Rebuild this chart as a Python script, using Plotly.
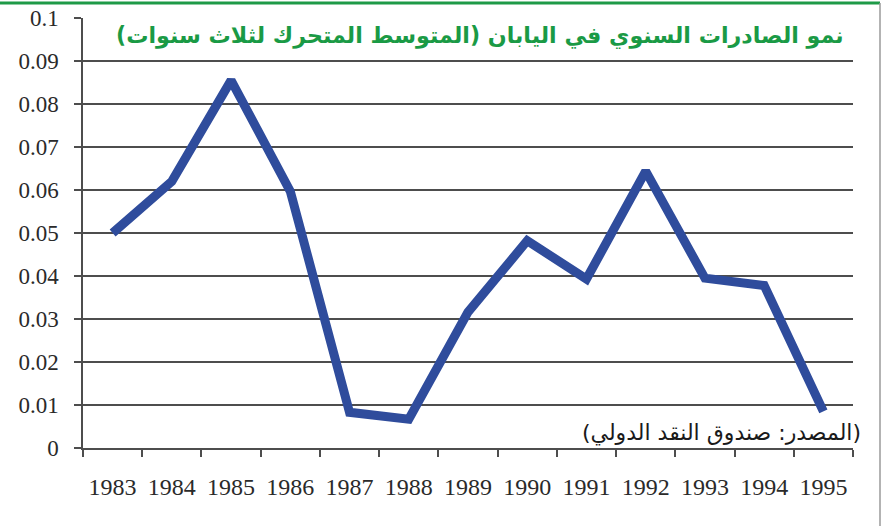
import plotly.graph_objects as go

years = ["1983", "1984", "1985", "1986", "1987", "1988", "1989",
         "1990", "1991", "1992", "1993", "1994", "1995"]
growth = [0.050, 0.062, 0.0855, 0.0597, 0.0083, 0.0067, 0.0316,
          0.0482, 0.0393, 0.0644, 0.0395, 0.0378, 0.0085]

title_text = "\u200fنمو الصادرات السنوي في اليابان (المتوسط المتحرك لثلاث سنوات)\u200f"
source_text = "\u200f(المصدر: صندوق النقد الدولي)\u200f"

GRID = "#4d4d4d"
L, R, T, B = 83, 29, 18, 78
W, H = 882, 526
pw, ph = W - L - R, H - T - B

def px(x):
    return (x - L) / pw

def py(y):
    return 1 - (y - T) / ph

fig = go.Figure()
fig.add_trace(go.Scatter(
    x=years, y=growth, mode="lines",
    line=dict(color="#2f4c9c", width=9),
    hoverinfo="x+y",
))

fig.update_layout(
    width=W, height=H,
    margin=dict(l=L, r=R, t=T, b=B, autoexpand=False),
    paper_bgcolor="white", plot_bgcolor="white",
    showlegend=False,
    xaxis=dict(
        type="category", tickson="boundaries",
        range=[-0.5, len(years) - 0.5], automargin=False,
        ticks="outside", ticklen=7, tickcolor=GRID, tickwidth=1.5,
        showline=True, linecolor=GRID, linewidth=1.5,
        showgrid=False, zeroline=False,
        tickfont=dict(family="Liberation Serif", size=24, color="#2a2a2a"),
        ticklabelstandoff=16,
    ),
    yaxis=dict(
        range=[0, 0.1], dtick=0.01, tick0=0, automargin=False,
        ticks="outside", ticklen=7, tickcolor=GRID, tickwidth=1.5,
        showline=True, linecolor=GRID, linewidth=1.5,
        showgrid=True, gridcolor=GRID, gridwidth=1.5,
        zeroline=False,
        tickfont=dict(family="Liberation Serif", size=23, color="#2a2a2a"),
        ticklabelstandoff=11,
    ),
    shapes=[
        dict(type="line", xref="paper", yref="paper",
             x0=px(0), x1=px(880), y0=py(3), y1=py(3),
             line=dict(color="#1e9a47", width=3)),
        dict(type="line", xref="paper", yref="paper",
             x0=px(880), x1=px(880), y0=py(3), y1=py(526),
             line=dict(color="#9a9a9a", width=1.5)),
    ],
    annotations=[
        dict(text=title_text, xref="paper", yref="paper",
             x=px(846), y=py(35), xanchor="right", yanchor="middle",
             showarrow=False,
             font=dict(family="DejaVu Sans", size=22.2, color="#1a9a45", weight="bold")),
        dict(text=source_text, xref="paper", yref="paper",
             x=px(863), y=py(433), xanchor="right", yanchor="middle",
             showarrow=False,
             font=dict(family="DejaVu Sans", size=22, color="#1a1a1a")),
    ],
)

fig.write_html(
    "out.html",
    config={"displayModeBar": False},
    post_script="document.body.style.margin='0';document.body.style.overflow='hidden';",
)
